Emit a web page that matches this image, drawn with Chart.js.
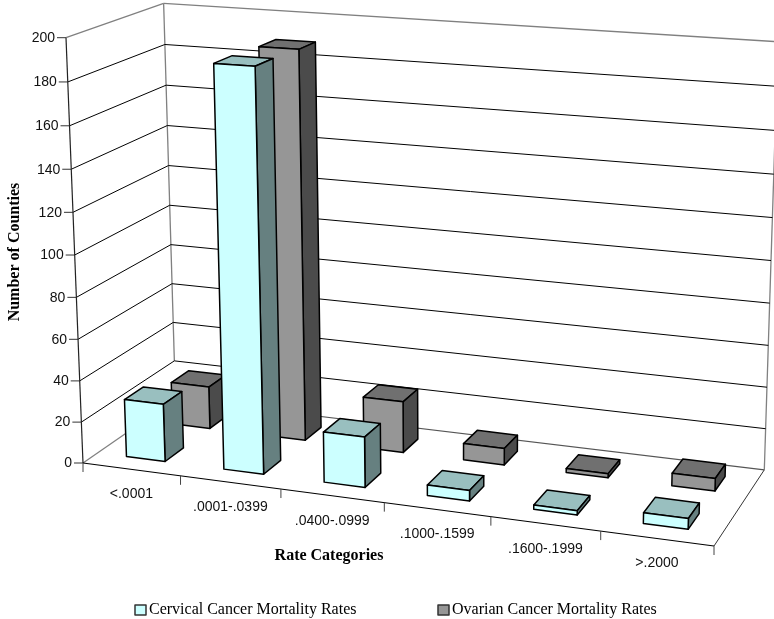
<!DOCTYPE html>
<html>
<head>
<meta charset="utf-8">
<title>Mortality rates</title>
<script src="https://cdn.jsdelivr.net/npm/chart.js@4"></script>
<style>
  html, body { margin: 0; padding: 0; background: #fff; }
  canvas { display: block; }
</style>
</head>
<body>
<canvas id="grafik" width="774" height="619"></canvas>
<script>
const categories = ['<.0001', '.0001-.0399', '.0400-.0999', '.1000-.1599', '.1600-.1999', '>.2000'];
const cervicalRates = [28, 190, 24, 5, 2, 5];
const ovarianRates = [21, 189, 25, 8, 2, 6];
const seriesNames = ['Cervical Cancer Mortality Rates', 'Ovarian Cancer Mortality Rates'];
const yTitle = 'Number of Counties';
const xTitle = 'Rate Categories';

// camera: image of the box corners plus the perspective weights
const O = [83, 463], X = [714, 546], D = [175.5, 399], Z = [66, 37.7];
const G = -0.086, H = 0.079, C = -0.043;
// front/back of each series row along the depth of the floor
const rows = [[0.15, 0.35], [0.65, 0.85]];
const shades = [
    { front: '#CCFFFF', top: '#99BFBF', side: '#668080' },
    { front: '#969696', top: '#707070', side: '#4B4B4B' }
];
const legendX = [135, 438];

function project(u, v, w) {
    const d = 1 + G * u + H * v + C * w;
    const c = i => O[i] + u * ((1 + G) * X[i] - O[i]) + v * ((1 + H) * D[i] - O[i]) + w * ((1 + C) * Z[i] - O[i]);
    return [c(0) / d, c(1) / d];
}

function line(ctx, a, b, color, width) {
    ctx.strokeStyle = color;
    ctx.lineWidth = width;
    ctx.beginPath();
    ctx.moveTo(a[0], a[1]);
    ctx.lineTo(b[0], b[1]);
    ctx.stroke();
}

function face(ctx, pts, color) {
    ctx.fillStyle = color;
    ctx.strokeStyle = '#000';
    ctx.lineWidth = 1.5;
    ctx.lineJoin = 'round';
    ctx.beginPath();
    pts.forEach((p, i) => i ? ctx.lineTo(p[0], p[1]) : ctx.moveTo(p[0], p[1]));
    ctx.closePath();
    ctx.fill();
    ctx.stroke();
}

function drawBox(ctx, u0, u1, v0, v1, w, shade) {
    face(ctx, [project(u0, v1, w), project(u1, v1, w), project(u1, v0, w), project(u0, v0, w)], shade.top);
    face(ctx, [project(u1, v0, 0), project(u1, v1, 0), project(u1, v1, w), project(u1, v0, w)], shade.side);
    face(ctx, [project(u0, v0, 0), project(u1, v0, 0), project(u1, v0, w), project(u0, v0, w)], shade.front);
}

// the library lays out scales and bars on a flat hidden area, here it goes to the 3D box
const box3d = {
    id: 'box3d',
    beforeDatasetsDraw(chart) {
        const ctx = chart.ctx;
        const area = chart.chartArea;
        const yScale = chart.scales.y;
        const frac = px => (area.bottom - px) / area.height;
        ctx.save();

        // walls and floor (the back corner line stops at the first grid line in the original)
        const grey = '#808080';
        const w20 = frac(yScale.getPixelForValue(yScale.ticks[1].value));
        line(ctx, project(0, 0, 1), project(0, 1, 1), grey, 1.3);
        line(ctx, project(0, 1, 1), project(1, 1, 1), grey, 1.3);
        line(ctx, project(0, 1, w20), project(0, 1, 1), grey, 1.3);
        line(ctx, project(1, 1, 0), project(1, 1, 1), grey, 1.3);
        line(ctx, project(0, 0, 0), project(0, 1, 0), grey, 1.3);
        line(ctx, project(0, 1, 0), project(1, 1, 0), '#555', 1.2);
        line(ctx, project(1, 0, 0), project(1, 1, 0), '#333', 1);

        ctx.font = "14px 'Liberation Sans'";
        ctx.textAlign = 'right';
        ctx.textBaseline = 'middle';
        yScale.ticks.forEach(t => {
            const w = frac(yScale.getPixelForValue(t.value));
            const a = project(0, 0, w);
            if (t.value > 0 && t.value < 200) {
                line(ctx, a, project(0, 1, w), '#000', 1);
                line(ctx, project(0, 1, w), project(1, 1, w), '#000', 1);
            }
            line(ctx, [a[0] - 9, a[1]], a, '#333', 1);
            ctx.fillStyle = '#111';
            ctx.fillText(t.label, a[0] - 11, a[1] + 0.5);
        });

        // front axes
        line(ctx, project(0, 0, 0), project(0, 0, 1), '#222', 1.2);
        line(ctx, project(0, 0, 0), project(1, 0, 0), '#000', 1.2);
        const n = categories.length;
        for (let i = 0; i <= n; i++) {
            const p = project(i / n, 0, 0);
            line(ctx, p, [p[0], p[1] + 9], '#444', 1);
        }
        ctx.textAlign = 'center';
        ctx.fillStyle = '#111';
        chart.scales.x.getLabels().forEach((lab, i) => {
            const p = project((i + 0.5) / n, 0, 0);
            ctx.fillText(lab, p[0], p[1] + 25);
        });

        // bars, back row first, left to right
        [1, 0].forEach(ds => {
            chart.getDatasetMeta(ds).data.forEach(el => {
                const u0 = (el.x - el.width / 2 - area.left) / area.width;
                const u1 = (el.x + el.width / 2 - area.left) / area.width;
                drawBox(ctx, u0, u1, rows[ds][0], rows[ds][1], frac(el.y), shades[ds]);
            });
        });

        // axis titles
        ctx.fillStyle = '#000';
        ctx.font = "bold 16px 'Liberation Serif'";
        ctx.textAlign = 'center';
        ctx.fillText(xTitle, 329, 556);

        // legend, the built in one can't get the box this close to the text
        ctx.font = "16px 'Liberation Serif'";
        ctx.textAlign = 'left';
        chart.data.datasets.forEach((set, i) => {
            ctx.fillStyle = set.backgroundColor;
            ctx.strokeStyle = '#333';
            ctx.lineWidth = 1.5;
            ctx.fillRect(legendX[i], 605, 11, 10);
            ctx.strokeRect(legendX[i], 605, 11, 10);
            ctx.fillStyle = '#000';
            ctx.fillText(set.label, legendX[i] + 14, 610);
        });

        ctx.font = "bold 16px 'Liberation Serif'";
        ctx.textAlign = 'center';
        ctx.translate(15, 252);
        ctx.rotate(-Math.PI / 2);
        ctx.fillText(yTitle, 0, 0);
        ctx.restore();
        return false; // flat bars are not wanted
    }
};

new Chart(document.getElementById('grafik'), {
    type: 'bar',
    data: {
        labels: categories,
        datasets: [
            { label: seriesNames[0], data: cervicalRates, backgroundColor: shades[0].front },
            { label: seriesNames[1], data: ovarianRates, backgroundColor: shades[1].front }
        ]
    },
    options: {
        responsive: false,
        animation: false,
        grouped: false,
        barPercentage: 0.4,
        categoryPercentage: 1,
        plugins: {
            tooltip: { enabled: false },
            legend: { display: false }
        },
        scales: {
            x: { display: false },
            y: { display: false, min: 0, max: 200, ticks: { stepSize: 20 } }
        }
    },
    plugins: [box3d]
});
</script>
</body>
</html>
